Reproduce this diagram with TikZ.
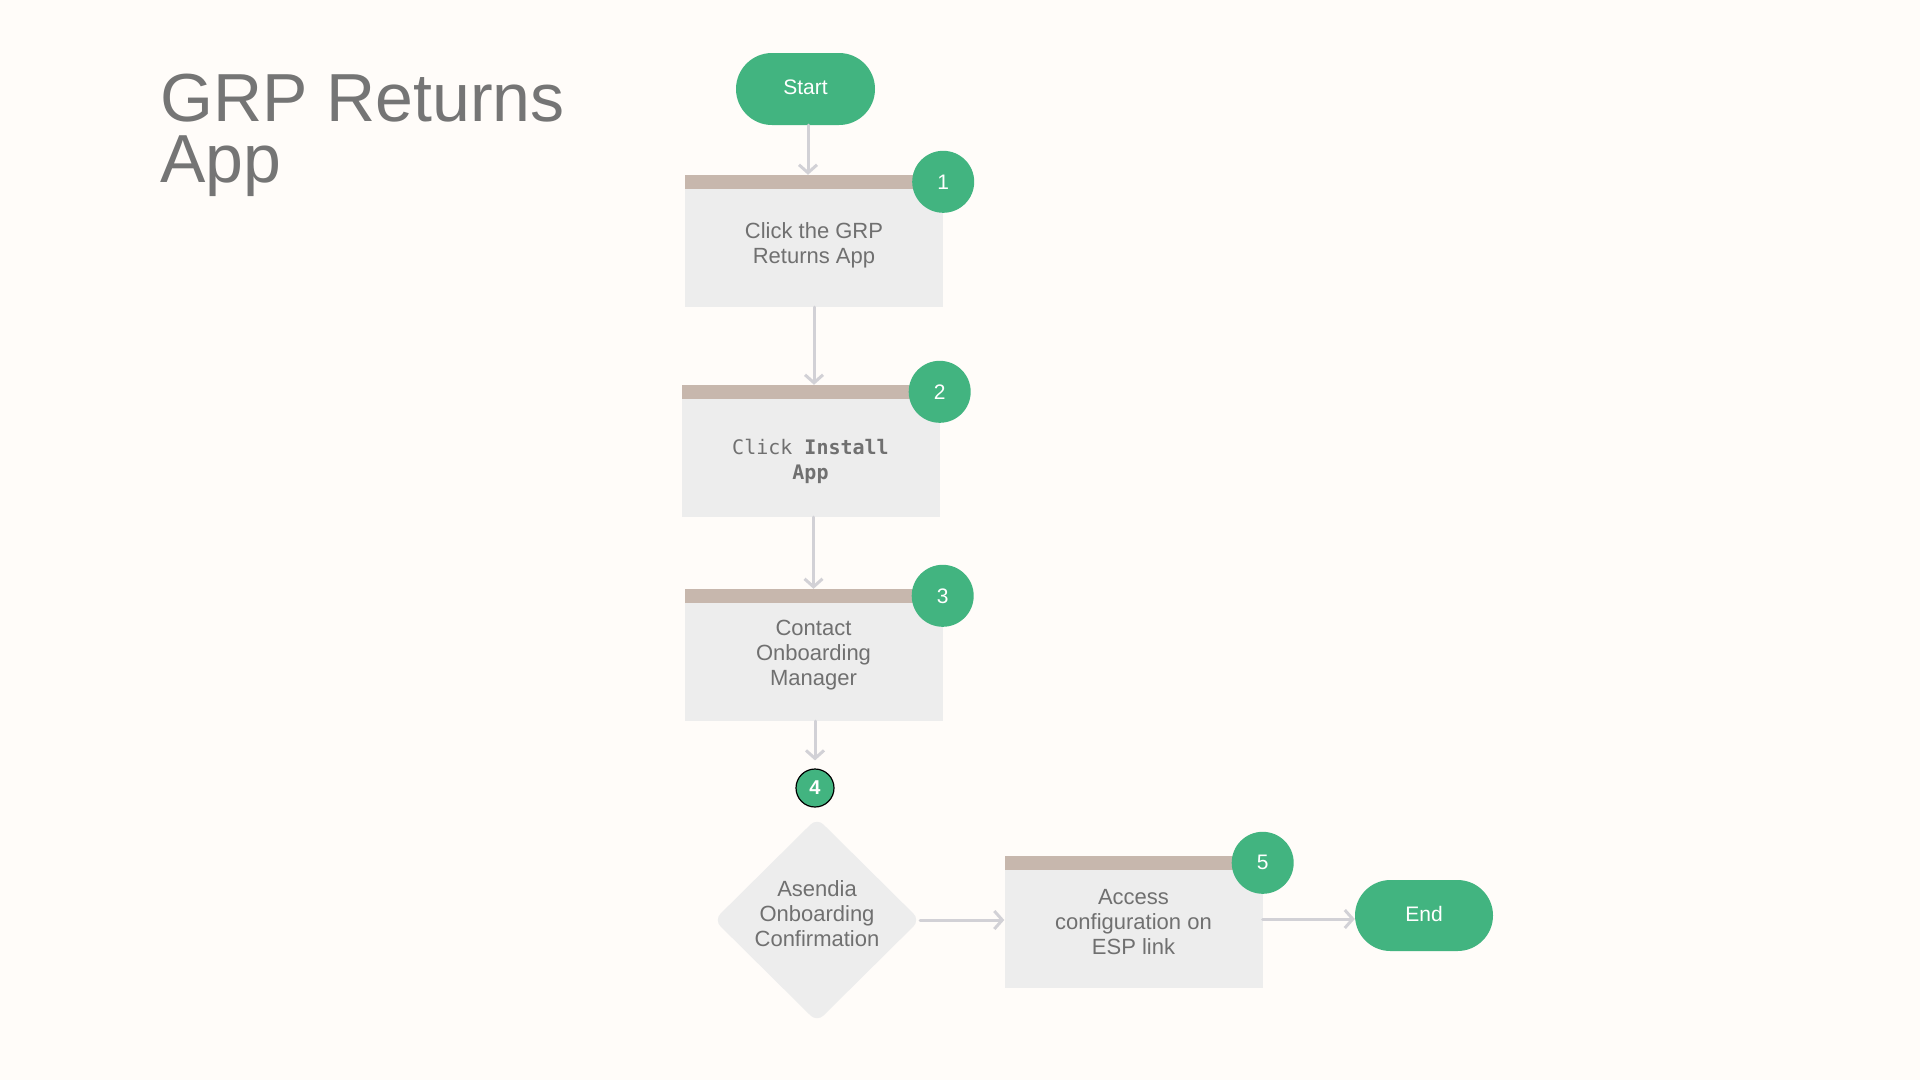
\documentclass[tikz,border=0pt]{standalone}
\usepackage{fontspec}
\setmainfont{Liberation Sans}
\newfontfamily\monof{DejaVu Sans Mono}
\usetikzlibrary{shapes.geometric,shapes.misc,arrows.meta,calc}
\definecolor{bgc}{HTML}{FFFCF9}
\definecolor{grn}{HTML}{42B480}
\definecolor{barc}{HTML}{C7B7AD}
\definecolor{boxc}{HTML}{EDEDED}
\definecolor{txtc}{HTML}{707070}
\definecolor{titc}{HTML}{757575}
\definecolor{arrc}{HTML}{D2D1D6}
\newcommand{\shiftup}[2]{\raisebox{#1}[\height][\depth]{#2}}
\tikzset{
  stepbox/.style={rectangle, fill=boxc, minimum width=258pt, minimum height=132pt, inner sep=0pt,
    align=center, text=txtc, font=\fontsize{22}{25}\selectfont,
    path picture={\fill[barc] (path picture bounding box.north west) rectangle ([yshift=-14pt]path picture bounding box.north east);}},
  badge/.style={circle, fill=grn, minimum size=62pt, inner sep=0pt, text=white, font=\fontsize{21}{25}\selectfont},
  term/.style={rounded rectangle, fill=grn, minimum width=139pt, minimum height=72pt, inner sep=0pt, text=white, font=\fontsize{21}{25}\selectfont},
  decision/.style={diamond, fill=boxc, minimum width=206pt, minimum height=204pt, inner sep=0pt, rounded corners=9pt,
    align=center, text=txtc, font=\fontsize{22}{25}\selectfont},
  titletext/.style={anchor=base west, inner sep=0pt, text=titc, font=\fontsize{68}{61}\selectfont},
  flow/.style={draw=arrc, line width=3pt, line cap=round, line join=round, -{Straight Barb[length=8pt,width=18pt]}},
}
\begin{document}
\begin{tikzpicture}[x=1pt,y=-1pt]
\fill[bgc] (0,0) rectangle (1920,1080);
\useasboundingbox (0,0) rectangle (1920,1080);

\node[titletext] (title1) at (160,121) {GRP Returns};
\node[titletext] (title2) at (160,182) {App};

\node[term] (start) at (805.5,89) {\shiftup{2pt}{Start}};

\node[stepbox] (b1) at (814,241) {\shiftup{-5pt}{\begin{tabular}{@{}c@{}}Click the GRP\\Returns App\end{tabular}}};
\node[stepbox] (b2) at (810.5,451) {\shiftup{-11pt}{\monof\fontsize{20}{25}\selectfont\begin{tabular}{@{}c@{}}Click \textbf{Install}\\\textbf{App}\end{tabular}}};
\node[stepbox] (b3) at (813.5,655) {Contact\\Onboarding\\Manager};
\node[circle, fill=grn, draw=black, line width=1.2pt, minimum size=38pt, inner sep=0pt, text=white, font=\fontsize{20}{24}\selectfont\bfseries] (c4) at (815,788) {4};
\node[decision] (d) at (817,920) {\shiftup{4pt}{\begin{tabular}{@{}c@{}}Asendia\\Onboarding\\Confirmation\end{tabular}}};
\node[stepbox] (b5) at (1133.5,922) {Access\\configuration on\\ESP link};
\node[term, minimum width=138pt, minimum height=71pt] (end) at (1424,915.5) {\shiftup{2pt}{End}};

\node[badge] (n1) at ([yshift=-7pt]b1.north east) {1};
\node[badge] (n2) at ([yshift=-7pt]b2.north east) {2};
\node[badge] (n3) at ([yshift=-7pt]b3.north east) {3};
\node[badge] (n5) at ([yshift=-7pt]b5.north east) {5};

\draw[flow] ([xshift=2.5pt]start.south) -- ([xshift=2.5pt]start.south |- b1.north);
\draw[flow] (b1.south) -- (b1.south |- b2.north);
\draw[flow] (b3.north |- b2.south) -- (b3.north);
\draw[flow, shorten >=8pt] (b3.south -| c4.north) -- (c4.north);
\draw[flow] (d.east) -- (d.east -| b5.west);
\draw[flow] ([yshift=3pt]b5.east) -- ([yshift=3pt]b5.east -| end.west);
\end{tikzpicture}
\end{document}
